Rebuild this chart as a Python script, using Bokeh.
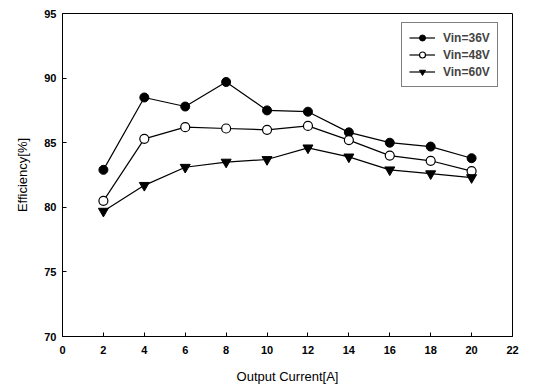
from bokeh.plotting import figure
from bokeh.models import Range1d, FixedTicker, Legend, LegendItem
from bokeh.embed import file_html
from bokeh.resources import INLINE

current = [2, 4, 6, 8, 10, 12, 14, 16, 18, 20]
eff_36 = [82.9, 88.5, 87.8, 89.7, 87.5, 87.4, 85.8, 85.0, 84.7, 83.8]
eff_48 = [80.5, 85.3, 86.2, 86.1, 86.0, 86.3, 85.2, 84.0, 83.6, 82.8]
eff_60 = [79.7, 81.7, 83.1, 83.5, 83.7, 84.6, 83.9, 82.9, 82.6, 82.3]
x_ticks = list(range(0, 23, 2))
y_ticks = [70, 75, 80, 85, 90, 95]

FONT = "Liberation Sans"

p = figure(width=527, height=386, output_backend="svg", toolbar_location=None,
           x_range=Range1d(0, 22), y_range=Range1d(70, 95),
           min_border_left=62, min_border_right=15, min_border_top=13, min_border_bottom=50)
p.xgrid.visible = False
p.ygrid.visible = False
p.outline_line_color = "black"
p.outline_line_width = 1
p.background_fill_color = "white"
p.border_fill_color = "white"

for ax in (p.xaxis[0], p.yaxis[0]):
    ax.axis_line_color = "black"
    ax.major_tick_in = 4
    ax.major_tick_out = 0
    ax.minor_tick_line_color = None
    ax.major_label_text_font = FONT
    ax.major_label_text_font_style = "bold"
    ax.major_label_text_font_size = "11px"
    ax.major_label_text_color = "black"
    ax.axis_label_text_font = FONT
    ax.axis_label_text_font_style = "normal"
    ax.axis_label_text_font_size = "13px"
    ax.axis_label_text_color = "black"

p.xaxis.ticker = FixedTicker(ticks=x_ticks)
p.yaxis.ticker = FixedTicker(ticks=y_ticks)
p.xaxis.axis_label = "Output Current[A]"
p.yaxis.axis_label = "Efficiency[%]"
p.xaxis.major_label_standoff = 9
p.xaxis.axis_label_standoff = 12
p.yaxis.major_label_standoff = 6
p.yaxis.axis_label_standoff = 11

l1 = p.line(current, eff_36, line_color="black", line_width=1.2)
s1 = p.scatter(current, eff_36, marker="circle", size=9, fill_color="black", line_color="black")
l2 = p.line(current, eff_48, line_color="black", line_width=1.2)
s2 = p.scatter(current, eff_48, marker="circle", size=9, fill_color="white", line_color="black", line_width=1.2)
l3 = p.line(current, eff_60, line_color="black", line_width=1.2)
s3 = p.scatter(current, eff_60, marker="inverted_triangle", size=10, fill_color="black", line_color="black")

legend = Legend(items=[
    LegendItem(label="Vin=36V", renderers=[l1, s1]),
    LegendItem(label="Vin=48V", renderers=[l2, s2]),
    LegendItem(label="Vin=60V", renderers=[l3, s3]),
], location=(339, 249))
legend.border_line_color = "black"
legend.border_line_width = 1
legend.label_text_font = FONT
legend.label_text_font_size = "12px"
legend.label_text_font_style = "bold"
legend.glyph_width = 26
legend.glyph_height = 15
legend.label_height = 15
legend.label_standoff = 8
legend.spacing = 2
legend.padding = 7
legend.margin = 0
legend.background_fill_alpha = 1
p.add_layout(legend)

open("out.html", "w").write(file_html(p, INLINE))
